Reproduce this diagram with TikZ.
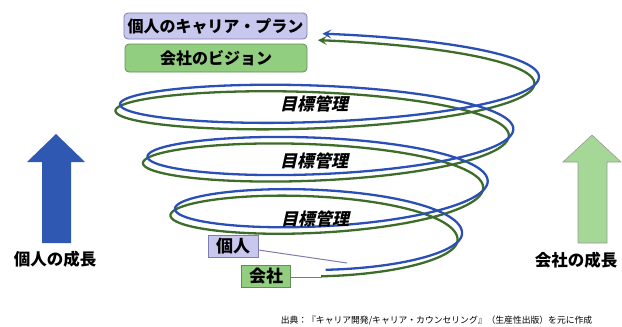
\documentclass[tikz,border=0pt]{standalone}
\usepackage{fontspec}
\usetikzlibrary{arrows.meta}
\newfontfamily\jp{Noto Sans CJK JP}
\newfontfamily\jpsl{Noto Sans CJK JP}[FakeSlant=0.22]
\definecolor{hblue}{RGB}{42,80,182}
\definecolor{hgreen}{RGB}{62,108,42}
\definecolor{lav}{RGB}{200,200,238}
\definecolor{lavline}{RGB}{125,125,175}
\definecolor{lgreen}{RGB}{146,206,128}
\definecolor{lgreenline}{RGB}{100,140,90}
\definecolor{arrblue}{RGB}{47,88,178}
\definecolor{arrgreen}{RGB}{165,215,150}
\begin{document}
\begin{tikzpicture}[x=1pt,y=-1pt,
  declare function={
    hcx(\t)=325.4-0.0026*\t;
    ha(\t)=136.6+0.0738*\t;
    hcy(\t)=234.3-0.145*max(\t,0)-0.05*min(\t,0);
    hx(\t)=hcx(\t)+ha(\t)*cos(\t);
    hy(\t)=hcy(\t)-31*sin(\t);
  },
  lavbox/.style={draw=lavline,fill=lav,line width=0.8pt,inner sep=0pt},
  grnbox/.style={draw=lgreenline,fill=lgreen,line width=0.8pt,inner sep=0pt},
  jptext/.style={font=\jp\bfseries\fontsize{16}{18}\selectfont},
  mbo/.style={font=\jpsl\bfseries\fontsize{17}{19}\selectfont},
  growth/.style={font=\jp\bfseries\fontsize{16.5}{18}\selectfont},
  helixb/.style={draw=hblue,line width=2.3pt,-{Stealth[length=9pt,width=9pt,inset=4pt]}},
  helixg/.style={draw=hgreen,line width=2.3pt,-{Stealth[length=9pt,width=9pt,inset=4pt]}},
  conn/.style={line width=1pt}
]
\useasboundingbox (0,0) rectangle (622,327);

% helix
\draw[helixg] plot[domain=-90:1170,samples=600,smooth,variable=\t] ({hx(\t)-4.5},{hy(\t)+6.5});
\draw[helixb] plot[domain=-90:1170,samples=600,smooth,variable=\t] ({hx(\t)},{hy(\t)});

% top boxes
\node[lavbox,rounded corners=4pt,minimum width=183pt,minimum height=26pt,jptext] (plan) at (215.5,26) {個人のキャリア・プラン};
\node[grnbox,rounded corners=4pt,minimum width=182pt,minimum height=28pt,jptext] (vision) at (216,58) {会社のビジョン};

% labels
\node[mbo] (m1) at (314,104) {目標管理};
\node[mbo] (m2) at (314,161) {目標管理};
\node[mbo] (m3) at (315,219) {目標管理};

% start boxes
\node[lavbox,minimum width=50pt,minimum height=22pt,font=\jp\bfseries\fontsize{17}{19}\selectfont] (kojin) at (233,246) {個人};
\node[grnbox,minimum width=49pt,minimum height=22pt,font=\jp\bfseries\fontsize{17}{19}\selectfont] (kaisha) at (266,276) {会社};
\coordinate (kojinend) at (347,263);
\coordinate (kaishaend) at (321.5,277);
\draw[conn,draw=lavline] (kojin.east) ++(0,4) -- (kojinend);
\draw[conn,draw=lgreenline] (kaisha.east) ++(0,1) -- (kaishaend);

% growth arrows
\fill[arrblue] (56,134) -- (85,162) -- (71,162) -- (71,243) -- (42,243) -- (42,162) -- (27,162) -- cycle;
\filldraw[fill=arrgreen,draw=gray!80,line width=0.6pt] (592,135) -- (621,162) -- (607,162) -- (607,243) -- (578,243) -- (578,162) -- (563,162) -- cycle;
\node[growth] (kg) at (55,259) {個人の成長};
\node[growth] (cg) at (576,260) {会社の成長};

% source
\node[font=\jp\fontsize{8.8}{10}\selectfont] (src) at (436.5,321) {出典：『キャリア開発/キャリア・カウンセリング』（生産性出版）を元に作成};
\end{tikzpicture}
\end{document}
